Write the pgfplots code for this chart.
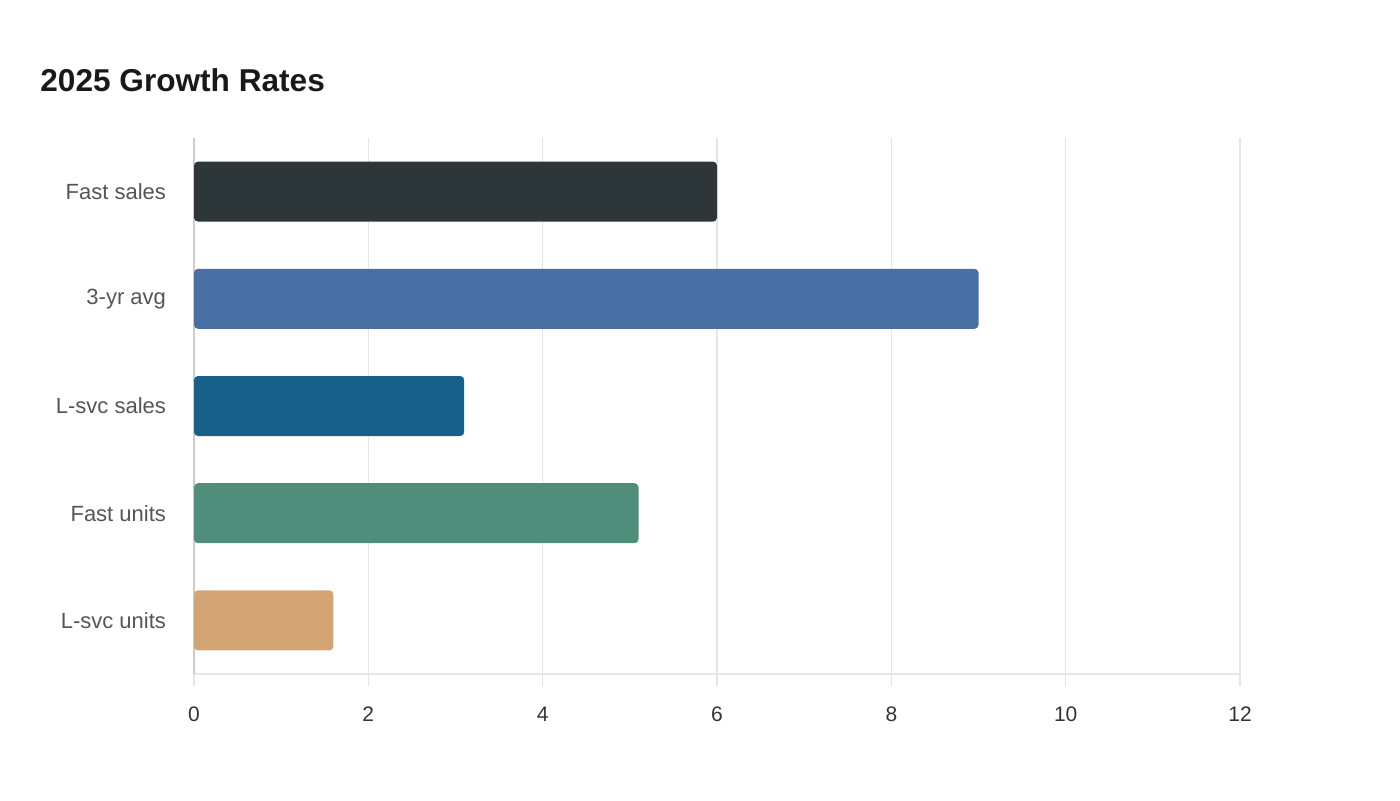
\documentclass[border=0pt]{standalone}
\usepackage{pgfplots}
\pgfplotsset{compat=1.18}
\usepackage{fontspec}
\setmainfont{Liberation Sans}
\definecolor{cA}{HTML}{2D3638}
\definecolor{cB}{HTML}{4A6FA5}
\definecolor{cC}{HTML}{176089}
\definecolor{cD}{HTML}{4E8E7B}
\definecolor{cE}{HTML}{D4A574}
\definecolor{gridc}{HTML}{E6E6E6}
\definecolor{axc}{HTML}{CCCCCC}
\definecolor{ylab}{HTML}{555555}
\definecolor{xlab}{HTML}{333333}
\begin{document}
\begin{tikzpicture}
\path (0,0) rectangle (700pt,400pt);
\node[anchor=west, inner sep=0pt, font=\fontsize{15.8}{19}\selectfont\bfseries, text=black!90] at (20pt,360pt) {2025 Growth Rates};
\begin{axis}[
  at={(97pt,63pt)}, anchor=south west,
  scale only axis, width=523pt, height=268pt,
  xbar, bar width=30pt, bar shift=0pt,
  xmin=0, xmax=12, ymin=-0.5, ymax=4.5,
  y dir=reverse,
  xtick={0,2,...,12},
  ytick={0,1,2,3,4},
  yticklabels={Fast sales,3-yr avg,L-svc sales,Fast units,L-svc units},
  /pgf/number format/assume math mode=true,
  xticklabel style={font=\fontsize{10.5}{12}\selectfont, text=xlab, yshift=-7pt},
  yticklabel style={font=\fontsize{11}{13}\selectfont, text=ylab, xshift=-4.5pt},
  axis x line*=bottom, axis y line*=left,
  axis line style={draw=axc, line width=0.6pt},
  x axis line style={-, draw=gridc},
  y axis line style={-, draw=axc},
  tick align=outside,
  major tick length=6pt,
  xtick style={draw=gridc, line width=0.6pt},
  ytick style={draw=none},
  xmajorgrids, grid style={draw=gridc, line width=0.6pt},
  nodes near coords,
  nodes near coords style={text=white, font=\fontsize{10.5}{12}\selectfont\bfseries, anchor=west, xshift=-2.5pt},
  every axis plot/.append style={draw=none, rounded corners=2pt},
]
\addplot[fill=cA] coordinates {(6,0)};
\addplot[fill=cB] coordinates {(9,1)};
\addplot[fill=cC] coordinates {(3.1,2)};
\addplot[fill=cD] coordinates {(5.1,3)};
\addplot[fill=cE] coordinates {(1.6,4)};
\end{axis}
\end{tikzpicture}
\end{document}
